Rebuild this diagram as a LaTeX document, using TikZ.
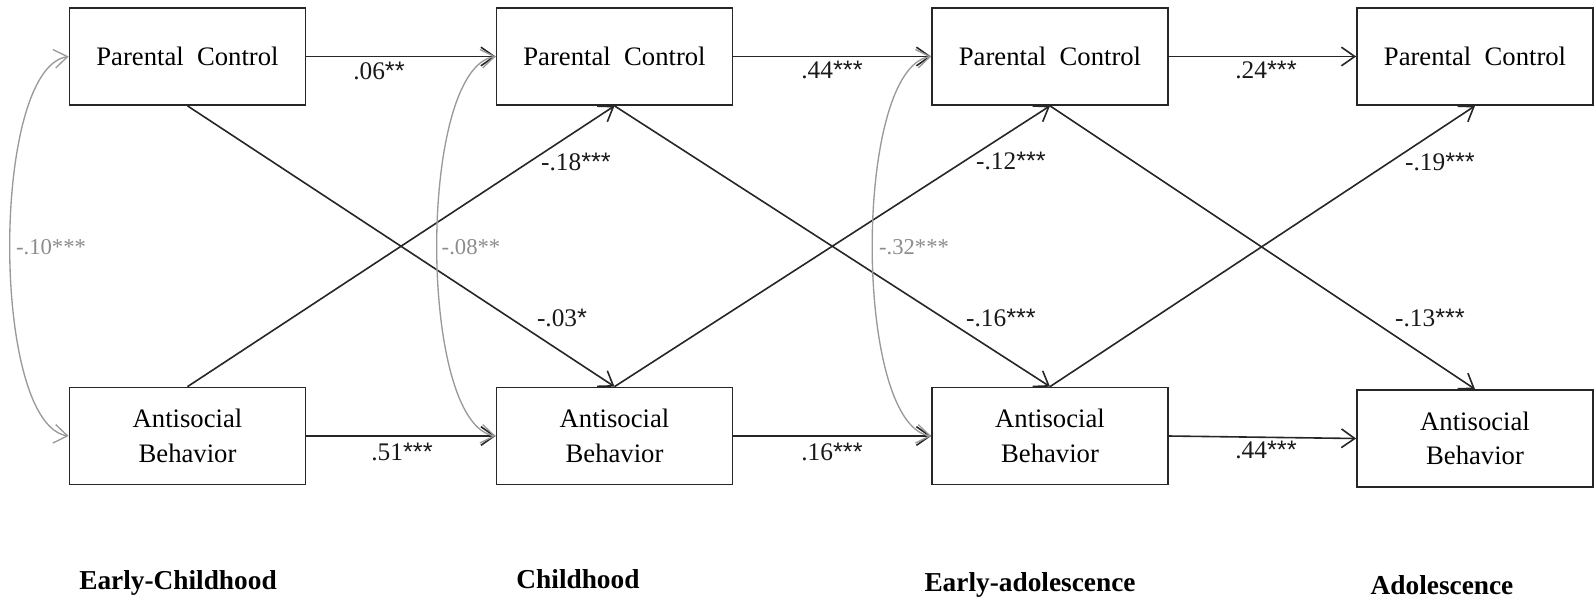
\documentclass[tikz,border=0pt]{standalone}
\usepackage{fontspec}
\setmainfont{Liberation Serif}
\newfontfamily\starfont{Liberation Sans}
\usetikzlibrary{arrows.meta}

\newcommand{\sig}[1]{{\starfont #1}}

\tikzset{every picture/.style={line width=0.75pt}}
\tikzset{
  varbox/.style={draw=black!85, line width=1.3pt, minimum width=177pt, minimum height=72.75pt, inner sep=0pt, align=center, font=\fontsize{20}{26}\selectfont},
  regarrow/.style={draw=black!85, line width=1.2pt, -{Straight Barb[length=10pt,width=14pt]}},
  covarrow/.style={draw=black!40, line width=1pt, {Straight Barb[length=10pt,width=14pt]}-{Straight Barb[length=10pt,width=14pt]}},
  coef/.style={font=\fontsize{19}{22}\selectfont, text=black!90},
  covcoef/.style={font=\fontsize{17}{20}\selectfont, text=black!45},
  stage/.style={font=\fontsize{20.5}{24}\selectfont\bfseries},
}

\begin{document}
\begin{tikzpicture}[x=0.75pt,y=0.75pt,yscale=-1,xscale=1]
\useasboundingbox (0,0) rectangle (1594,601);

%Shape: Rectangle, parental control
\node[varbox] (pc1) at (187.5,56.5) {Parental~~Control};
\node[varbox] (pc2) at (614.5,56.5) {Parental~~Control};
\node[varbox] (pc3) at (1050,56.5) {Parental~~Control};
\node[varbox] (pc4) at (1475,56.5) {Parental~~Control};
%Shape: Rectangle, antisocial behavior
\node[varbox] (ab1) at (187.5,436) {Antisocial\\Behavior};
\node[varbox] (ab2) at (614.5,436) {Antisocial\\Behavior};
\node[varbox] (ab3) at (1050,436) {Antisocial\\Behavior};
\node[varbox] (ab4) at (1475,438.5) {Antisocial\\Behavior};

%Straight Lines, stability
\draw[regarrow] (pc1) -- (pc2);
\draw[regarrow] (pc2) -- (pc3);
\draw[regarrow] (pc3) -- (pc4);
\draw[regarrow] (ab1) -- (ab2);
\draw[regarrow] (ab2) -- (ab3);
\draw[regarrow] (ab3.east) -- (ab4.west);
%Straight Lines, cross-lagged
\draw[regarrow] (pc1.south) -- (ab2.north);
\draw[regarrow] (ab1.north) -- (pc2.south);
\draw[regarrow] (pc2.south) -- (ab3.north);
\draw[regarrow] (ab2.north) -- (pc3.south);
\draw[regarrow] (pc3.south) -- (ab4.north);
\draw[regarrow] (ab3.north) -- (pc4.south);
%Curve Lines, covariances
\draw[covarrow] (pc1.west) .. controls +(-78,12) and +(-78,-12) .. (ab1.west);
\draw[covarrow] (pc2.west) .. controls +(-78,12) and +(-78,-12) .. (ab2.west);
\draw[covarrow] (pc3.west) .. controls +(-78,12) and +(-78,-12) .. (ab3.west);

% Text Node
\node[coef] (c1) at (379,71) {.06\sig{**}};
\node[coef] (c2) at (832,70) {.44\sig{***}};
\node[coef] (c3) at (1266,70) {.24\sig{***}};
\node[coef] (c4) at (402,452) {.51\sig{***}};
\node[coef] (c5) at (832,452) {.16\sig{***}};
\node[coef] (c6) at (1266,450) {.44\sig{***}};
\node[coef] (c7) at (576,162) {-.18\sig{***}};
\node[coef] (c8) at (1011,161) {-.12\sig{***}};
\node[coef] (c9) at (1440,162) {-.19\sig{***}};
\node[coef] (c10) at (562,318) {-.03\sig{*}};
\node[coef] (c11) at (1001,318) {-.16\sig{***}};
\node[coef] (c12) at (1430,318) {-.13\sig{***}};
% Text Node
\node[covcoef] (r1) at (51,247) {-.10***};
\node[covcoef] (r2) at (471,247) {-.08**};
\node[covcoef] (r3) at (914,247) {-.32***};
% Text Node
\node[stage] (s1) at (178,583) {Early-Childhood};
\node[stage] (s2) at (578,579) {Childhood};
\node[stage] (s3) at (1030,585) {Early-adolescence};
\node[stage] (s4) at (1442,585) {Adolescence};

\end{tikzpicture}
\end{document}
